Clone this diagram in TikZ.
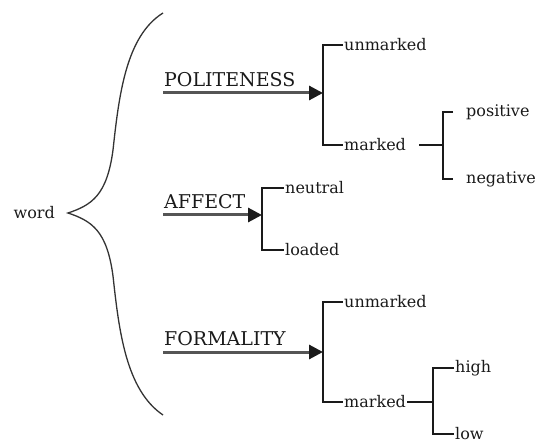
\documentclass[tikz,border=0pt]{standalone}
\usepackage{fontspec}
\setmainfont{DejaVu Serif}
\usetikzlibrary{positioning,arrows.meta}
\definecolor{ink}{HTML}{1A1A1A}
\definecolor{lead}{HTML}{555555}
\definecolor{curl}{HTML}{333333}

\begin{document}
\begin{tikzpicture}[x=1pt,y=-1pt,
  leaf/.style={anchor=west,inner sep=1pt,text=ink,font=\fontsize{16}{18}\selectfont},
  dim/.style={anchor=south west,inner sep=1pt,text=ink,font=\fontsize{19}{22}\selectfont},
  fork/.style={ink,line width=2pt},
  feed/.style={lead,line width=3pt,-{Triangle[length=14pt,width=14pt,color=ink]}},
  brace/.style={curl,line width=1.3pt}]
  \useasboundingbox (0,0) rectangle (545,443);
  % head word and its curly brace
  \coordinate (tip) at (68,213);
  \coordinate (top) at (163,13);
  \coordinate (bot) at (163,415);
  \node[leaf,anchor=east] (word) at (56,213) {word};
  \draw[brace] (top) .. controls (126,36) and (119,95) .. (113,150)
    .. controls (107,195) and (92,205) .. (tip)
    .. controls (92,221) and (107,231) .. (113,276)
    .. controls (119,331) and (126,390) .. (bot);
  % politeness
  \coordinate (pol-in) at (163,93);
  \coordinate (pol-fork) at (323,93);
  \coordinate (pol-sub) at (443,145);
  \node[dim] (pol) at (163,88) {POLITENESS};
  \node[leaf] (pol-unm) at (343,45) {unmarked};
  \node[leaf] (pol-mkd) at (343,145) {marked};
  \node[leaf] (pol-pos) at (465,112) {positive};
  \node[leaf] (pol-neg) at (465,179) {negative};
  \draw[feed] (pol-in) -- (pol-fork);
  \draw[fork] (pol-unm.west) -| (pol-fork) |- (pol-mkd.west);
  \draw[fork] ([xshift=12pt]pol-mkd.east) -- (pol-sub);
  \draw[fork] ([xshift=-12pt]pol-pos.west) -| (pol-sub) |- ([xshift=-12pt]pol-neg.west);
  % affect
  \coordinate (aff-in) at (163,215);
  \coordinate (aff-fork) at (262,215);
  \node[dim] (aff) at (163,210) {AFFECT};
  \node[leaf] (aff-neu) at (284,188) {neutral};
  \node[leaf] (aff-load) at (284,250) {loaded};
  \draw[feed] (aff-in) -- (aff-fork);
  \draw[fork] (aff-neu.west) -| (aff-fork) |- (aff-load.west);
  % formality
  \coordinate (form-in) at (163,352);
  \coordinate (form-fork) at (323,352);
  \coordinate (form-sub) at (433,402);
  \node[dim] (form) at (163,347) {FORMALITY};
  \node[leaf] (form-unm) at (343,302) {unmarked};
  \node[leaf] (form-mkd) at (343,402) {marked};
  \node[leaf] (form-high) at (454,368) {high};
  \node[leaf] (form-low) at (454,434) {low};
  \draw[feed] (form-in) -- (form-fork);
  \draw[fork] (form-unm.west) -| (form-fork) |- (form-mkd.west);
  \draw[fork] (form-mkd.east) -- (form-sub);
  \draw[fork] (form-high.west) -| (form-sub) |- (form-low.west);
\end{tikzpicture}
\end{document}
